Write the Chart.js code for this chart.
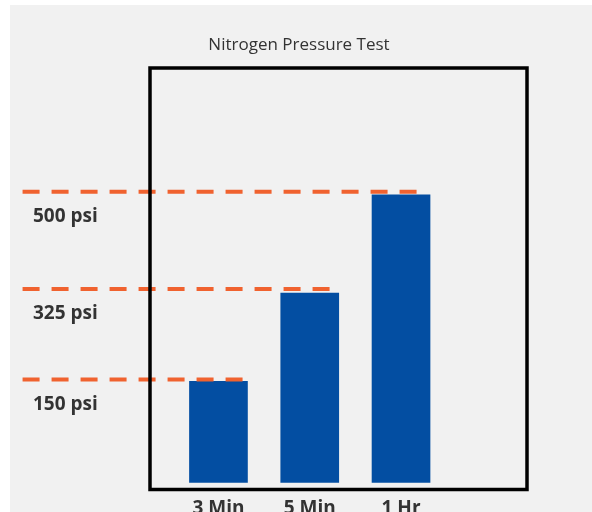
<!DOCTYPE html>
<html><head><meta charset="utf-8">
<script src="https://cdn.jsdelivr.net/npm/chart.js@4.4.1/dist/chart.umd.min.js"></script>
<style>
html,body{margin:0;padding:0;background:#fff;overflow:hidden;width:592px;height:512px}
#wrap{position:absolute;left:0;top:0;width:592px;height:530px}
</style>
</head><body><div id="wrap"><canvas id="c" width="592" height="530"></canvas></div>
<script>
// ---- data ----
const categories = ['3 Min', '5 Min', '1 Hr'];
const pressureValues = [174, 326, 495];
const thresholdLabels = ['150 psi', '325 psi', '500 psi'];
const thresholdLevels = [177, 333, 500];
const thresholdStart = [-2.146, -2.146, -2.146];
const thresholdEnd = [0.268, 1.221, 2.175];
const titleText = 'Nitrogen Pressure Test';

const panelPlugin = {
  id: 'panel',
  beforeDraw(chart) {
    const ctx = chart.ctx;
    ctx.save();
    ctx.fillStyle = '#f1f1f1';
    ctx.fillRect(10, 5, chart.width, chart.height);
    ctx.restore();
  }
};
const framePlugin = {
  id: 'frame',
  afterDatasetsDraw(chart) {
    const ctx = chart.ctx, a = chart.chartArea;
    ctx.save();
    ctx.strokeStyle = '#000';
    ctx.lineWidth = 3.5;
    ctx.strokeRect(a.left, a.top, a.right - a.left, a.bottom - a.top);
    // threshold labels
    ctx.fillStyle = '#333';
    ctx.font = 'bold 19px "Open Sans"';
    ctx.textAlign = 'left';
    ctx.textBaseline = 'middle';
    const y = chart.scales.y;
    thresholdLabels.forEach((t, i) => {
      ctx.fillText(t, a.left - 117, y.getPixelForValue(thresholdLevels[i]) + 25);
    });
    ctx.restore();
  }
};

function build() {
  const datasets = [{
    type: 'bar',
    data: categories.map((c, i) => ({ x: i, y: pressureValues[i] })),
    backgroundColor: '#034EA2',
    barThickness: 58,
    order: 2
  }];
  thresholdLevels.forEach((lv, i) => {
    datasets.push({
      type: 'line',
      data: [{ x: thresholdStart[i], y: lv }, { x: thresholdEnd[i], y: lv }],
      borderColor: '#F0622F',
      borderWidth: 4,
      borderDash: [17, 12],
      pointRadius: 0,
      fill: false,
      clip: false,
      order: 1
    });
  });

  new Chart(document.getElementById('c'), {
    type: 'bar',
    data: { datasets },
    plugins: [panelPlugin, framePlugin],
    options: {
      responsive: false,
      animation: false,
      events: [],
      layout: { padding: { left: 10, right: 4, top: 0, bottom: 2.7 } },
      plugins: {
        legend: { display: false },
        tooltip: { enabled: false },
        title: {
          display: true,
          text: titleText,
          color: '#333',
          font: { family: 'Open Sans', size: 17, weight: 'normal' },
          padding: { top: 34.8, bottom: 12.8 }
        }
      },
      scales: {
        x: {
          type: 'linear',
          position: 'bottom',
          offset: false,
          min: -0.75,
          max: 3.38,
          grid: { display: false, drawTicks: false, offset: false },
          border: { display: false },
          afterBuildTicks(axis) { axis.ticks = categories.map((c, i) => ({ value: i })); },
          ticks: {
            autoSkip: false,
            maxRotation: 0,
            padding: 7.5,
            color: '#333',
            font: { family: 'Open Sans', size: 19, weight: 'bold' },
            callback: (v) => categories[v] ?? ''
          }
        },
        y: {
          type: 'linear',
          position: 'left',
          min: -12,
          max: 713,
          grid: { display: false, drawTicks: false },
          border: { display: false },
          ticks: { display: false },
          afterFit(s) { s.width = 140; }
        },
        y2: {
          type: 'linear',
          position: 'right',
          display: true,
          min: -12,
          max: 713,
          grid: { display: false, drawTicks: false },
          border: { display: false },
          ticks: { display: false },
          afterFit(s) { s.width = 61; }
        }
      }
    }
  });
}

Promise.all([
  document.fonts.load('bold 19px "Open Sans"'),
  document.fonts.load('17px "Open Sans"')
]).then(build, build);
</script>
</body></html>
